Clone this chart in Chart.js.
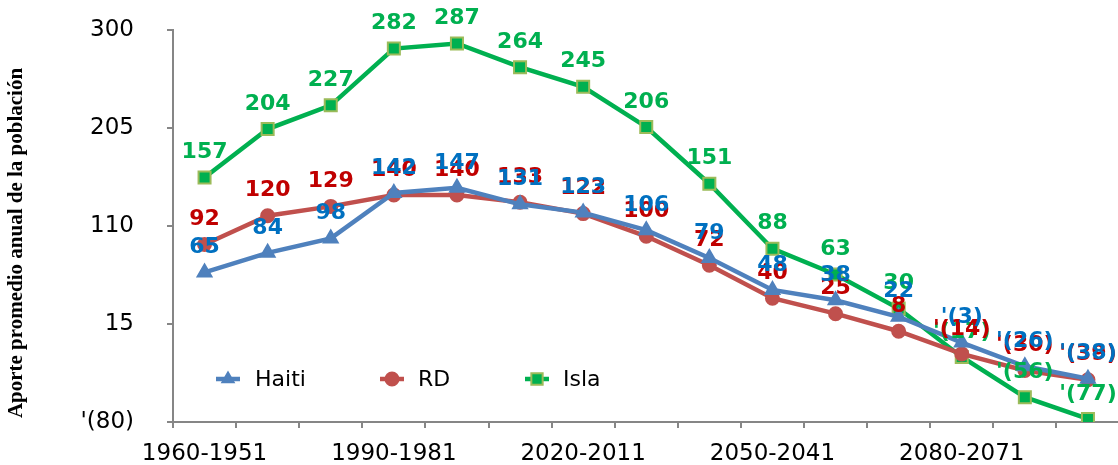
<!DOCTYPE html>
<html>
<head>
<meta charset="utf-8">
<script src="https://cdn.jsdelivr.net/npm/chart.js@4/dist/chart.umd.min.js"></script>
<style>
  html, body { margin: 0; padding: 0; background: #fff; overflow: hidden; }
  #wrap { width: 1118px; height: 465px; overflow: hidden; position: relative; }
  canvas { display: block; }
</style>
</head>
<body>
<div id="wrap"><canvas id="c" width="1130" height="465"></canvas></div>
<script>
const categories = ["1960-1951","1970-1961","1980-1971","1990-1981","2000-1991","2010-2001","2020-2011","2030-2021","2040-2031","2050-2041","2060-2051","2070-2061","2080-2071","2090-2081","2100-2091"];
const haiti = [65, 84, 98, 142, 147, 131, 123, 106, 79, 48, 38, 22, -3, -26, -38];
const rd    = [92, 120, 129, 140, 140, 133, 122, 100, 72, 40, 25, 8, -14, -30, -39];
const isla  = [157, 204, 227, 282, 287, 264, 245, 206, 151, 88, 63, 30, -17, -56, -77];
const yTicks = [-80, 15, 110, 205, 300];
const shownLabels = [0, 3, 6, 9, 12];
const yTitle = "Aporte promedio anual de la población";

const fmt = v => v < 0 ? "'(" + Math.abs(v) + ")" : String(v);

const series = [
  { name: "Haiti", data: haiti, line: "#4F81BD", fill: "#4F81BD", border: "#4F81BD", style: "triangle", r: 8, lr: 6.5, label: "#0070C0" },
  { name: "RD",    data: rd,    line: "#C0504D", fill: "#C0504D", border: "#C0504D", style: "circle",   r: 6.5, lr: 6.5, label: "#C00000" },
  { name: "Isla",  data: isla,  line: "#00B050", fill: "#00B050", border: "#9BBB59", style: "rect",     r: 8.5, lr: 8, label: "#00B050" }
];

const labelPlugin = {
  id: 'valueLabels',
  afterDatasetsDraw(chart) {
    const ctx = chart.ctx;
    ctx.save();
    ctx.font = "bold 22px 'DejaVu Sans'";
    ctx.textAlign = 'center';
    ctx.textBaseline = 'middle';
    for (let di = chart.data.datasets.length - 1; di >= 0; di--) {
      const meta = chart.getDatasetMeta(di);
      const ds = chart.data.datasets[di];
      ctx.fillStyle = series[di].label;
      meta.data.forEach((pt, i) => {
        ctx.fillText(fmt(ds.data[i]), pt.x, pt.y - 25);
      });
    }
    ctx.restore();
  }
};

const legendPlugin = {
  id: 'customLegend',
  afterDraw(chart) {
    const ctx = chart.ctx;
    ctx.save();
    const y = 379;
    const items = [
      { s: series[0], x0: 216, tx: 255 },
      { s: series[1], x0: 380, tx: 418 },
      { s: series[2], x0: 525, tx: 563 }
    ];
    items.forEach(it => {
      ctx.strokeStyle = it.s.line;
      ctx.lineWidth = 4.5;
      ctx.beginPath();
      ctx.moveTo(it.x0, y);
      ctx.lineTo(it.x0 + 24, y);
      ctx.stroke();
      ctx.fillStyle = it.s.fill;
      ctx.strokeStyle = it.s.border;
      ctx.lineWidth = 2;
      Chart.helpers.drawPoint(ctx, { pointStyle: it.s.style, radius: it.s.lr, borderWidth: 2, rotation: 0 }, it.x0 + 12, y);
      ctx.fillStyle = '#000';
      ctx.font = "22px 'DejaVu Sans'";
      ctx.textAlign = 'left';
      ctx.textBaseline = 'middle';
      ctx.fillText(it.s.name, it.tx, y + 1);
    });
    ctx.translate(17, 243);
    ctx.rotate(-Math.PI / 2);
    ctx.font = "bold 21px 'Liberation Serif'";
    ctx.fillStyle = '#000';
    ctx.textAlign = 'center';
    ctx.textBaseline = 'middle';
    ctx.fillText(yTitle, 0, 0);
    ctx.restore();
  }
};

new Chart(document.getElementById('c'), {
  type: 'line',
  data: {
    labels: categories,
    datasets: series.map(s => ({
      label: s.name,
      data: s.data,
      borderColor: s.line,
      borderWidth: 4.5,
      backgroundColor: s.fill,
      pointStyle: s.style,
      pointRadius: s.r,
      pointBackgroundColor: s.fill,
      pointBorderColor: s.border,
      pointBorderWidth: 2,
      tension: 0,
      fill: false
    }))
  },
  options: {
    responsive: false,
    animation: false,
    layout: { padding: { top: 30, right: 8, left: 0, bottom: 0 } },
    plugins: { legend: { display: false }, tooltip: { enabled: false } },
    scales: {
      x: {
        offset: true,
        grid: { offset: true, drawOnChartArea: false, drawTicks: true, tickLength: 6, color: '#868686', lineWidth: 2 },
        border: { color: '#868686', width: 2 },
        ticks: {
          autoSkip: false, maxRotation: 0, minRotation: 0, padding: 12,
          color: '#000', font: { family: "'DejaVu Sans'", size: 23 },
          callback: (v, i) => shownLabels.includes(i) ? categories[i] : ''
        },
        afterFit: s => { s.height = 43; s.paddingLeft = 0; s.paddingRight = 0; }
      },
      y: {
        min: -80, max: 300,
        afterBuildTicks: s => { s.ticks = yTicks.map(v => ({ value: v })); },
        grid: { drawOnChartArea: false, drawTicks: true, tickLength: 6, color: '#868686', lineWidth: 2 },
        border: { color: '#868686', width: 2 },
        ticks: {
          padding: 33, color: '#000', font: { family: "'DejaVu Sans'", size: 23 },
          callback: v => fmt(v)
        },
        afterFit: s => { s.width = 173; s.paddingTop = 0; s.paddingBottom = 0; }
      }
    }
  },
  plugins: [labelPlugin, legendPlugin]
});
</script>
</body>
</html>
